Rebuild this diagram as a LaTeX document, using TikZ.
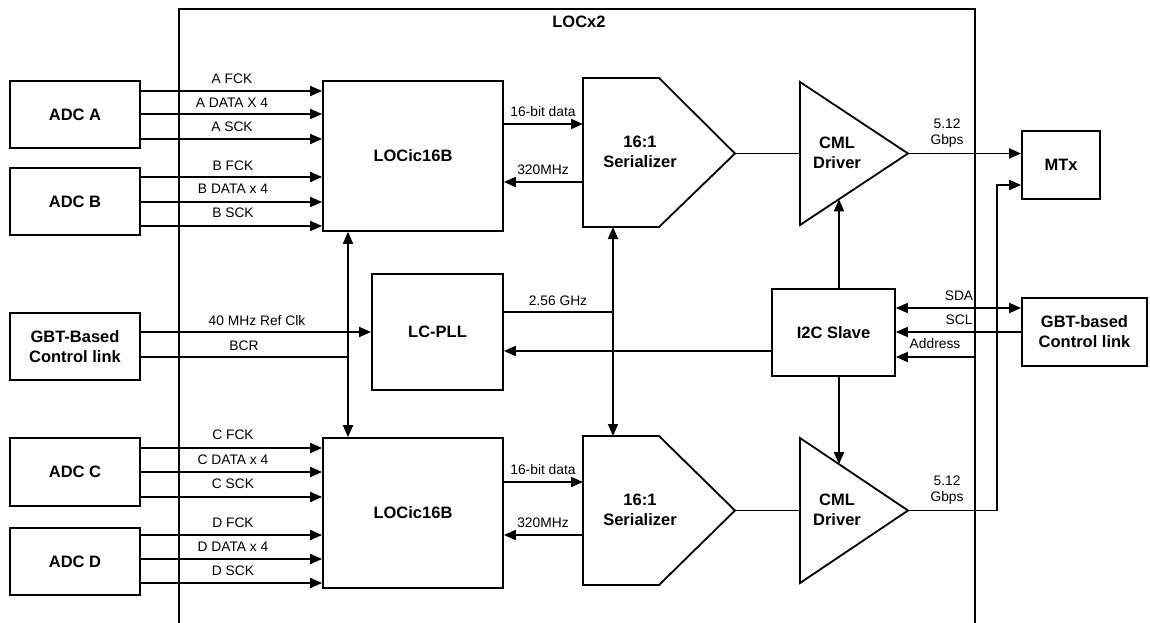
\documentclass[tikz,border=0pt]{standalone}
\usepackage{fontspec}
\setmainfont{Liberation Sans}
\usetikzlibrary{arrows.meta}
\begin{document}
\begin{tikzpicture}[x=1pt,y=-1pt,
  box/.style={draw,line width=1.8pt,inner sep=0pt,font=\fontsize{16.5}{20}\selectfont\bfseries,align=center},
  btxt/.style={inner sep=0pt,font=\fontsize{16.5}{20}\selectfont\bfseries,align=center},
  lbl/.style={font=\fontsize{13.8}{16}\selectfont,inner sep=0pt,align=center},
  conn/.style={line width=1.8pt},
  shp/.style={line width=1.8pt,line join=miter},
  arr/.style={conn,-{Triangle[length=12pt,width=10pt]}},
  darr/.style={conn,{Triangle[length=12pt,width=10pt]}-{Triangle[length=12pt,width=10pt]}},
]
\fill[white] (0,0) rectangle (1150,623);
\useasboundingbox (0,0) rectangle (1150,623);

% outer LOCx2 boundary
\draw[shp] (179,623) -- (179,9) -- (975,9) -- (975,623);
\node[btxt] (title) at (579,22) {LOCx2};

% left blocks
\node[box,minimum width=130pt,minimum height=67pt] (adcA) at (75,114.5) {ADC A};
\node[box,minimum width=130pt,minimum height=67pt] (adcB) at (75,201.5) {ADC B};
\node[box,minimum width=130pt,minimum height=67pt] (gbtL) at (75,346.5) {GBT-Based\\Control link};
\node[box,minimum width=130pt,minimum height=68pt] (adcC) at (75,472) {ADC C};
\node[box,minimum width=130pt,minimum height=67pt] (adcD) at (75,561.5) {ADC D};

% LOCic16B blocks
\node[box,minimum width=180pt,minimum height=150pt] (loc1) at (413,156) {LOCic16B};
\node[box,minimum width=180pt,minimum height=150pt] (loc2) at (413,513) {LOCic16B};

% LC-PLL, I2C, MTx, GBT right
\node[box,minimum width=131pt,minimum height=116pt] (pll) at (437.5,332) {LC-PLL};
\node[box,minimum width=123pt,minimum height=87pt] (i2c) at (833.5,332.5) {I2C Slave};
\node[box,minimum width=78pt,minimum height=68pt] (mtx) at (1061,165) {MTx};
\node[box,minimum width=125pt,minimum height=68pt] (gbtR) at (1084.5,332) {GBT-based\\Control link};

% serializers
\draw[shp] (583,78) coordinate (s1nw) -- (659,78) -- (735,153.5) coordinate (s1tip) -- (659,227) -- (583,227) coordinate (s1sw) -- cycle;
\node[btxt] (ser1) at (640,152) {16:1\\Serializer};
\draw[shp] (583,436) coordinate (s2nw) -- (659,436) -- (735,510.5) coordinate (s2tip) -- (659,585) -- (583,585) coordinate (s2sw) -- cycle;
\node[btxt] (ser2) at (640,510) {16:1\\Serializer};

% CML drivers
\draw[shp] (800,82) coordinate (c1nw) -- (908,153.5) coordinate (c1tip) -- (800,225) -- cycle;
\node[btxt] (cml1) at (837,153) {CML\\Driver};
\draw[shp] (800,438) coordinate (c2nw) -- (908,510.5) coordinate (c2tip) -- (800,583) -- cycle;
\node[btxt] (cml2) at (837,510) {CML\\Driver};
\coordinate (c1in) at (839,199.3);
\coordinate (c2in) at (839,464.2);

% ADC A / B signals
\draw[arr] (adcA.east |- 0,91) -- (loc1.west |- 0,91);
\draw[arr] (adcA.east |- 0,114) -- (loc1.west |- 0,114);
\draw[arr] (adcA.east |- 0,139) -- (loc1.west |- 0,139);
\node[lbl] (lA1) at (232,79) {A FCK};
\node[lbl] (lA2) at (232,103) {A DATA X 4};
\node[lbl] (lA3) at (232,127) {A SCK};
\draw[arr] (adcB.east |- 0,177) -- (loc1.west |- 0,177);
\draw[arr] (adcB.east |- 0,202) -- (loc1.west |- 0,202);
\draw[arr] (adcB.east |- 0,226) -- (loc1.west |- 0,226);
\node[lbl] (lB1) at (233,166) {B FCK};
\node[lbl] (lB2) at (233,189) {B DATA x 4};
\node[lbl] (lB3) at (233,213) {B SCK};

% ADC C / D signals
\draw[arr] (adcC.east |- 0,448) -- (loc2.west |- 0,448);
\draw[arr] (adcC.east |- 0,472) -- (loc2.west |- 0,472);
\draw[arr] (adcC.east |- 0,497) -- (loc2.west |- 0,497);
\node[lbl] (lC1) at (233,435) {C FCK};
\node[lbl] (lC2) at (233,460) {C DATA x 4};
\node[lbl] (lC3) at (233,484) {C SCK};
\draw[arr] (adcD.east |- 0,535) -- (loc2.west |- 0,535);
\draw[arr] (adcD.east |- 0,559) -- (loc2.west |- 0,559);
\draw[arr] (adcD.east |- 0,583) -- (loc2.west |- 0,583);
\node[lbl] (lD1) at (233,523) {D FCK};
\node[lbl] (lD2) at (233,547) {D DATA x 4};
\node[lbl] (lD3) at (233,571) {D SCK};

% GBT left to PLL
\draw[arr] (gbtL.east |- 0,332) -- (pll.west |- 0,332);
\node[lbl] (l40) at (257,321) {40 MHz Ref Clk};
\draw[conn] (gbtL.east |- 0,357) -- (348,357);
\node[lbl] (lbcr) at (244,346) {BCR};

% vertical links
\draw[darr] (348,0 |- loc1.south) -- (348,0 |- loc2.north);
\draw[darr] (613,0 |- s1sw) -- (613,0 |- s2nw);
\draw[conn] (pll.east |- 0,312) -- (613,312);
\node[lbl] (l256) at (558,301) {2.56 GHz};

% LOCic16B <-> serializer
\draw[arr] (loc1.east |- 0,124) -- (s1nw |- 0,124);
\draw[arr] (s1nw |- 0,182) -- (loc1.east |- 0,182);
\node[lbl] (l16a) at (543,112) {16-bit data};
\node[lbl] (l320a) at (543,170) {320MHz};
\draw[arr] (loc2.east |- 0,482) -- (s2nw |- 0,482);
\draw[arr] (s2nw |- 0,535) -- (loc2.east |- 0,535);
\node[lbl] (l16b) at (543,470) {16-bit data};
\node[lbl] (l320b) at (543,523) {320MHz};

% serializer -> CML
\draw[conn] (s1tip) -- (c1nw |- s1tip);
\draw[conn] (s2tip) -- (c2nw |- s2tip);

% CML -> MTx
\draw[arr] (c1tip) -- (mtx.west |- c1tip);
\node[lbl] (l512a) at (947,133) {5.12\\Gbps};
\draw[arr] (c2tip) -- (997,510.5) -- (997,185) -- (mtx.west |- 0,185);
\node[lbl] (l512b) at (947,490) {5.12\\Gbps};

% I2C control of CML
\draw[arr] (839,0 |- i2c.north) -- (c1in);
\draw[arr] (839,0 |- i2c.south) -- (c2in);

% I2C links
\draw[arr] (i2c.west |- 0,351) -- (pll.east |- 0,351);
\draw[darr] (i2c.east |- 0,308) -- (gbtR.west |- 0,308);
\node[lbl] (lsda) at (959,296) {SDA};
\draw[arr] (gbtR.west |- 0,332) -- (i2c.east |- 0,332);
\node[lbl] (lscl) at (959,320) {SCL};
\coordinate (addr) at (975,357);
\draw[arr] (addr) -- (i2c.east |- addr);
\node[lbl] (ladr) at (935,344) {Address};
\end{tikzpicture}
\end{document}
